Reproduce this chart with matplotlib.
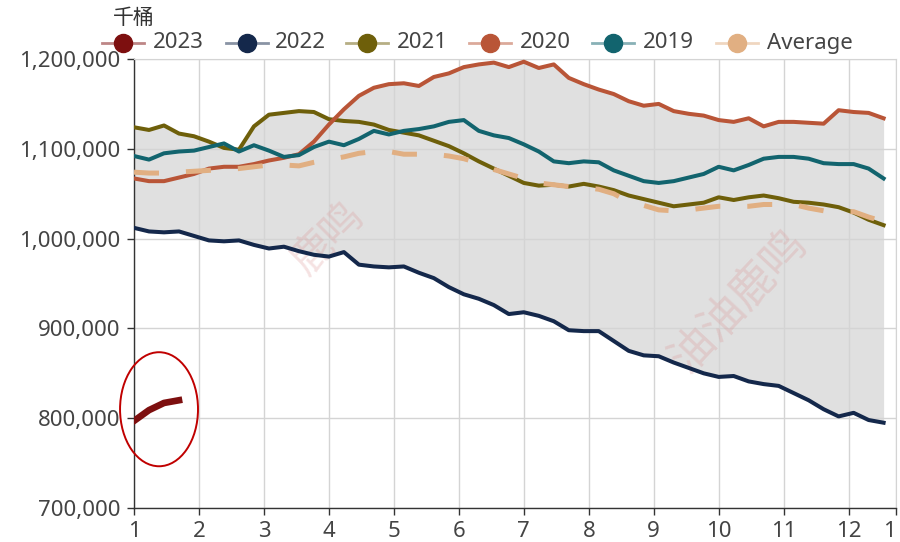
#!/usr/bin/env python3
"""Weekly inventory by year against a 5-year range band."""
import numpy as np
import matplotlib
matplotlib.use("Agg")
import matplotlib.pyplot as plt
from matplotlib.lines import Line2D
from matplotlib.patches import Ellipse

# weekly values, thousand barrels
y2023 = [797000, 809000, 817000, 820000]
y2022 = [1012000, 1008000, 1007000, 1008000, 1003000, 998000, 997000, 998000, 993000, 989000,
         991000, 986000, 982000, 980000, 985000, 971000, 969000, 968000, 969000, 962000,
         956000, 946000, 938000, 933000, 926000, 916000, 918000, 914000, 908000, 898000,
         897000, 897000, 886000, 875000, 870000, 869000, 862000, 856000, 850000, 846000,
         847000, 841000, 838000, 836000, 828000, 820000, 810000, 802000, 806000, 798000,
         795000]
y2021 = [1124000, 1121000, 1126000, 1117000, 1114000, 1108000, 1101000, 1099000, 1125000, 1138000,
         1140000, 1142000, 1141000, 1133000, 1131000, 1130000, 1127000, 1121000, 1118000, 1115000,
         1109000, 1103000, 1095000, 1086000, 1078000, 1070000, 1062000, 1059000, 1060000, 1058000,
         1061000, 1058000, 1054000, 1048000, 1044000, 1040000, 1036000, 1038000, 1040000, 1046000,
         1043000, 1046000, 1048000, 1045000, 1041000, 1040000, 1038000, 1035000, 1029000, 1021000,
         1015000]
y2020 = [1067000, 1064000, 1064000, 1068000, 1072000, 1078000, 1080000, 1080000, 1083000, 1087000,
         1090000, 1094000, 1108000, 1127000, 1144000, 1159000, 1168000, 1172000, 1173000, 1170000,
         1180000, 1184000, 1191000, 1194000, 1196000, 1191000, 1197000, 1190000, 1194000, 1179000,
         1172000, 1166000, 1161000, 1153000, 1148000, 1150000, 1142000, 1139000, 1137000, 1132000,
         1130000, 1134000, 1125000, 1130000, 1130000, 1129000, 1128000, 1143000, 1141000, 1140000,
         1134000]
y2019 = [1092000, 1088000, 1095000, 1097000, 1098000, 1102000, 1106000, 1097000, 1104000, 1098000,
         1091000, 1093000, 1102000, 1108000, 1104000, 1111000, 1120000, 1116000, 1120000, 1122000,
         1125000, 1130000, 1132000, 1120000, 1115000, 1112000, 1105000, 1097000, 1086000, 1084000,
         1086000, 1085000, 1076000, 1070000, 1064000, 1062000, 1064000, 1068000, 1072000, 1080000,
         1076000, 1082000, 1089000, 1091000, 1091000, 1089000, 1084000, 1083000, 1083000, 1078000,
         1067000]
average = [1074000, 1073000, 1073000, 1074000, 1075000, 1076000, 1077000, 1078000, 1080000, 1082000,
           1082000, 1081000, 1085000, 1088000, 1091000, 1095000, 1097000, 1097000, 1094000, 1094000,
           1094000, 1092000, 1089000, 1084000, 1077000, 1072000, 1067000, 1062000, 1060000, 1058000,
           1057000, 1055000, 1050000, 1041000, 1037000, 1032000, 1031000, 1032000, 1034000, 1036000,
           1036000, 1036000, 1038000, 1038000, 1038000, 1034000, 1031000, 1030000, 1030000, 1024000,
           1019000]

x_ticks = list(range(1, 13))
y_ticks = [700000, 800000, 900000, 1000000, 1100000, 1200000]


def month_pos(n):
    # week index -> month axis position
    return 1 + np.arange(n) * 12 / 52


def main() -> None:
    plt.rcParams["font.family"] = ["Noto Sans", "Noto Sans CJK SC", "DejaVu Sans"]
    fig = plt.figure(figsize=(9, 5.42), dpi=100)
    ax = fig.add_axes([0.1489, 0.0627, 0.8467, 0.8284])

    x = month_pos(len(y2022))
    hist = np.array([y2022, y2021, y2020, y2019])
    ax.fill_between(x, hist.min(axis=0), hist.max(axis=0), color="#e0e0e0", lw=0, zorder=0.3)

    series = [
        ("2023", y2023, "#7d0f0f"),
        ("2022", y2022, "#14284b"),
        ("2021", y2021, "#6e5f0a"),
        ("2020", y2020, "#b95537"),
        ("2019", y2019, "#12646e"),
    ]
    for name, vals, color in series:
        lw = 4.8 if name == "2023" else 2.9
        ax.plot(month_pos(len(vals)), vals, color=color, lw=lw, solid_joinstyle="round", zorder=3)
    ax.plot(x, average, color="#e1af82", lw=3.6, dashes=(5, 5.4), zorder=3.5)

    ax.add_patch(Ellipse((1.385, 810000), 1.2, 127000, fill=False, edgecolor="#c00000",
                         lw=1.4, clip_on=False, zorder=5))

    # watermarks
    ax.text(4.0, 1000000, "鹿鸣", rotation=45, fontsize=30, color="#d98c8c", alpha=0.25,
            family=["Noto Sans CJK SC"], ha="center", va="center", zorder=2)
    ax.text(10.3, 930000, "油油鹿鸣", rotation=47, fontsize=32, color="#d98c8c", alpha=0.25,
            family=["Noto Sans CJK SC"], ha="center", va="center", zorder=2)

    ax.set_xlim(1, 12.73)
    ax.set_ylim(700000, 1200000)
    ax.set_xticks(x_ticks + [12.73])
    ax.set_xticklabels([str(t) for t in x_ticks] + ["1"])
    ax.get_xticklabels()[-1].set_horizontalalignment("right")
    ax.set_yticks(y_ticks)
    ax.set_yticklabels([f"{v:,}" for v in y_ticks])
    ax.set_axisbelow(True)
    ax.grid(True, color="#d4d4d4", lw=1.0)
    for side in ("top", "right"):
        ax.spines[side].set_color("#d4d4d4")
    for side in ("left", "bottom"):
        ax.spines[side].set_color("#333333")
        ax.spines[side].set_linewidth(1.0)
    ax.tick_params(axis="both", colors="#333333", labelcolor="#444444", labelsize=16,
                   length=5, width=1.0, pad=4)
    ax.tick_params(axis="y", pad=5)

    fig.text(134 / 900, 1 - 18 / 542, "千桶", ha="center", va="center", fontsize=15,
             color="#333333", family=["Noto Sans CJK SC", "DejaVu Sans"])

    # legend drawn by hand to keep the original spacing
    legend_items = [(name, color) for name, _, color in series] + [("Average", "#e1af82")]
    icon_x = [123, 247, 367, 490, 613, 737]
    text_x = [153, 275, 397, 520, 643, 767]
    ly = 1 - 43 / 542
    for (name, color), cx, tx in zip(legend_items, icon_x, text_x):
        fig.add_artist(Line2D([(cx - 21) / 900, (cx + 21) / 900], [ly, ly], color=color,
                              alpha=0.5, lw=2, transform=fig.transFigure))
        fig.add_artist(Line2D([cx / 900], [ly], color=color, marker="o", markersize=13,
                              lw=0, transform=fig.transFigure))
        fig.text(tx / 900, ly, name, ha="left", va="center", fontsize=16, color="#444444")

    fig.savefig("out.png", dpi=100)
    plt.close(fig)


if __name__ == "__main__":
    main()
